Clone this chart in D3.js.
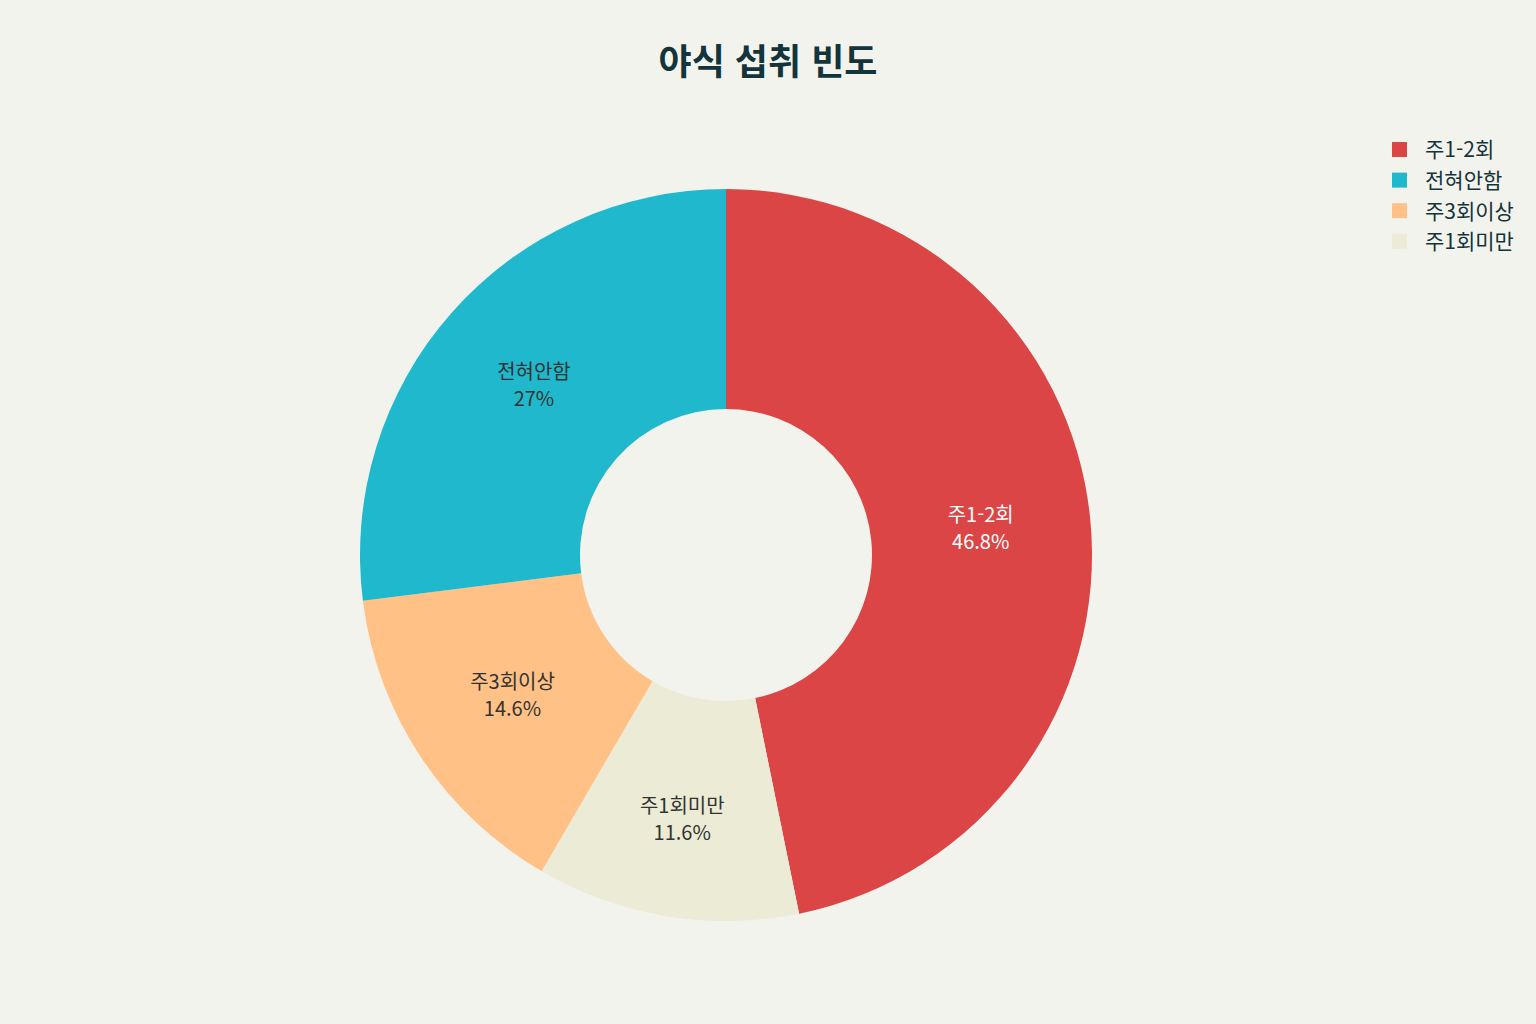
<!DOCTYPE html>
<html lang="ko">
<head>
  <meta charset="UTF-8">
  <title>야식 섭취 빈도</title>
  <script src="https://d3js.org/d3.v7.min.js"></script>
  <style>
    html, body { margin: 0; padding: 0; background: #F3F3EE; }
    svg { display: block; font-family: "Noto Sans CJK KR", "Noto Sans", sans-serif; }
    .title { font-size: 36px; font-weight: 700; fill: #13343B; }
    .legend text { font-size: 21px; fill: #13343B; }
    .slice-label { font-size: 20px; }
  </style>
</head>
<body>
  <svg width="1536" height="1024"></svg>

  <script>
    // drawing order, clockwise from 12 o'clock
    const categories = ["주1-2회", "주1회미만", "주3회이상", "전혀안함"];
    const values = [46.8, 11.6, 14.6, 27];
    const colors = ["#DB4545", "#ECEBD5", "#FFC185", "#1FB8CD"];
    const legendOrder = ["주1-2회", "전혀안함", "주3회이상", "주1회미만"];

    const width = 1536;
    const height = 1024;
    const cx = 726, cy = 555;
    const outerR = 366, innerR = 146;

    const svg = d3.select("svg");

    svg.append("text")
      .attr("class", "title")
      .attr("x", 768)
      .attr("y", 75)
      .attr("text-anchor", "middle")
      .text("야식 섭취 빈도");

    const color = d3.scaleOrdinal().domain(categories).range(colors);

    const data = categories.map((c, i) => ({ label: c, value: values[i] }));

    const pie = d3.pie().value(d => d.value).sort(null);
    const arc = d3.arc().innerRadius(innerR).outerRadius(outerR);
    const midR = (innerR + outerR) / 2;
    // narrow slices get their label pushed a bit outward
    const labelPos = d => {
      const r = (d.endAngle - d.startAngle) < 0.75 ? midR + 13 : midR;
      return d3.arc().innerRadius(r).outerRadius(r).centroid(d);
    };

    const g = svg.append("g").attr("transform", `translate(${cx},${cy})`);

    const slices = g.selectAll("g.slice")
      .data(pie(data))
      .enter().append("g")
      .attr("class", "slice");

    slices.append("path")
      .attr("d", arc)
      .attr("fill", d => color(d.data.label));

    const fmt = v => `${+v.toFixed(1)}%`;

    const labels = slices.append("text")
      .attr("class", "slice-label")
      .attr("text-anchor", "middle")
      .attr("transform", d => `translate(${labelPos(d)})`)
      .attr("fill", d => d.data.label === "주1-2회" ? "#FFFFFF" : "#333333");

    labels.append("tspan")
      .attr("x", 0)
      .attr("dy", "-0.35em")
      .text(d => d.data.label);

    labels.append("tspan")
      .attr("x", 0)
      .attr("dy", "1.35em")
      .text(d => fmt(d.data.value));

    const legend = svg.append("g")
      .attr("class", "legend")
      .attr("transform", "translate(1392,141)");

    const items = legend.selectAll("g")
      .data(legendOrder)
      .enter().append("g")
      .attr("transform", (d, i) => `translate(0,${i * 30.6})`);

    items.append("rect")
      .attr("width", 15)
      .attr("height", 15)
      .attr("y", 1)
      .attr("fill", d => color(d));

    items.append("text")
      .attr("x", 33)
      .attr("y", 9)
      .attr("dy", "0.35em")
      .text(d => d);
  </script>
</body>
</html>
